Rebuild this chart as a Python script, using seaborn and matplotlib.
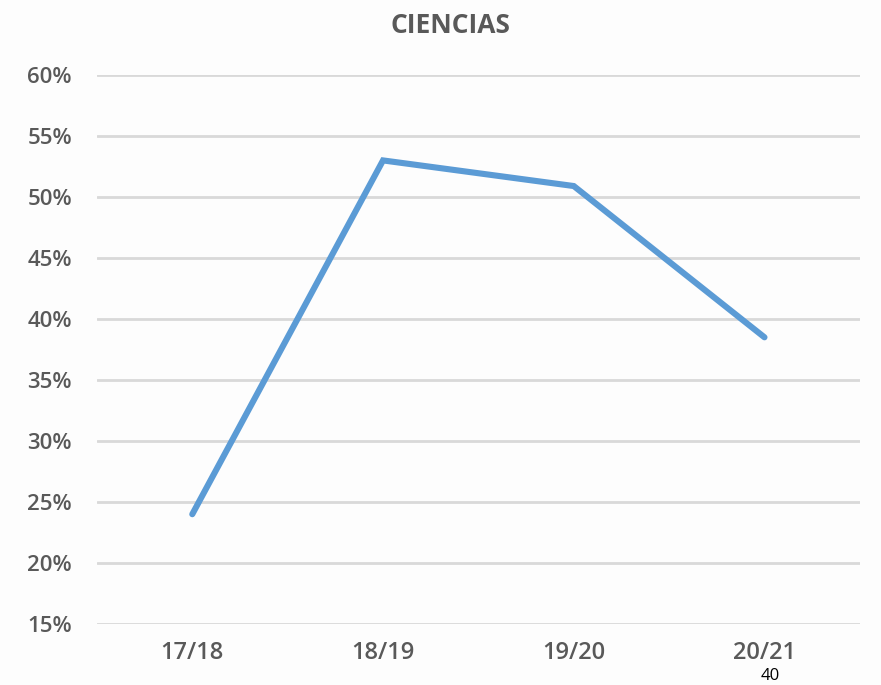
import matplotlib
matplotlib.use("Agg")
import matplotlib.pyplot as plt
import seaborn as sns
import pandas as pd
from matplotlib.ticker import FuncFormatter

# Data
categories = ["17/18", "18/19", "19/20", "20/21"]
values = [0.24, 0.53, 0.509, 0.385]
y_ticks = [0.15, 0.20, 0.25, 0.30, 0.35, 0.40, 0.45, 0.50, 0.55, 0.60]
title_text = "CIENCIAS"
page_number = "40"

df = pd.DataFrame({"curso": categories, "valor": values})

sns.set_theme(style="white")
plt.rcParams["font.family"] = ["Open Sans", "DejaVu Sans"]

fig = plt.figure(figsize=(8.81, 6.85), dpi=100)
fig.patch.set_facecolor("#FDFDFD")
ax = fig.add_axes([0.110, 0.089, 0.866, 0.8015])
ax.set_facecolor("#FDFDFD")

sns.lineplot(data=df, x="curso", y="valor", ax=ax, color="#5B9BD5",
             linewidth=4.4, sort=False, solid_capstyle="round",
             solid_joinstyle="miter")

ax.set_xlim(-0.5, len(categories) - 0.5)
ax.set_ylim(0.15, 0.60)
ax.set_yticks(y_ticks)
ax.yaxis.set_major_formatter(FuncFormatter(lambda v, p: f"{v*100:.0f}%"))
ax.grid(axis="y", color="#D9D9D9", linewidth=2)
ax.set_axisbelow(True)
for s in ax.spines.values():
    s.set_visible(False)
ax.tick_params(axis="both", length=0, colors="#595959")
ax.tick_params(axis="y", pad=18, labelsize=16)
ax.tick_params(axis="x", pad=12, labelsize=17)
for lbl in ax.get_xticklabels() + ax.get_yticklabels():
    lbl.set_fontweight("semibold")
ax.set_xlabel("")
ax.set_ylabel("")

fig.text(0.511, 0.963, title_text, ha="center", va="center",
         fontsize=19, fontweight="bold", color="#595959")

# page number at bottom
fig.text(0.874, 0.002, page_number, ha="center", va="bottom",
         fontsize=12, color="#000000")

fig.savefig("out.png", dpi=100, facecolor=fig.get_facecolor())
